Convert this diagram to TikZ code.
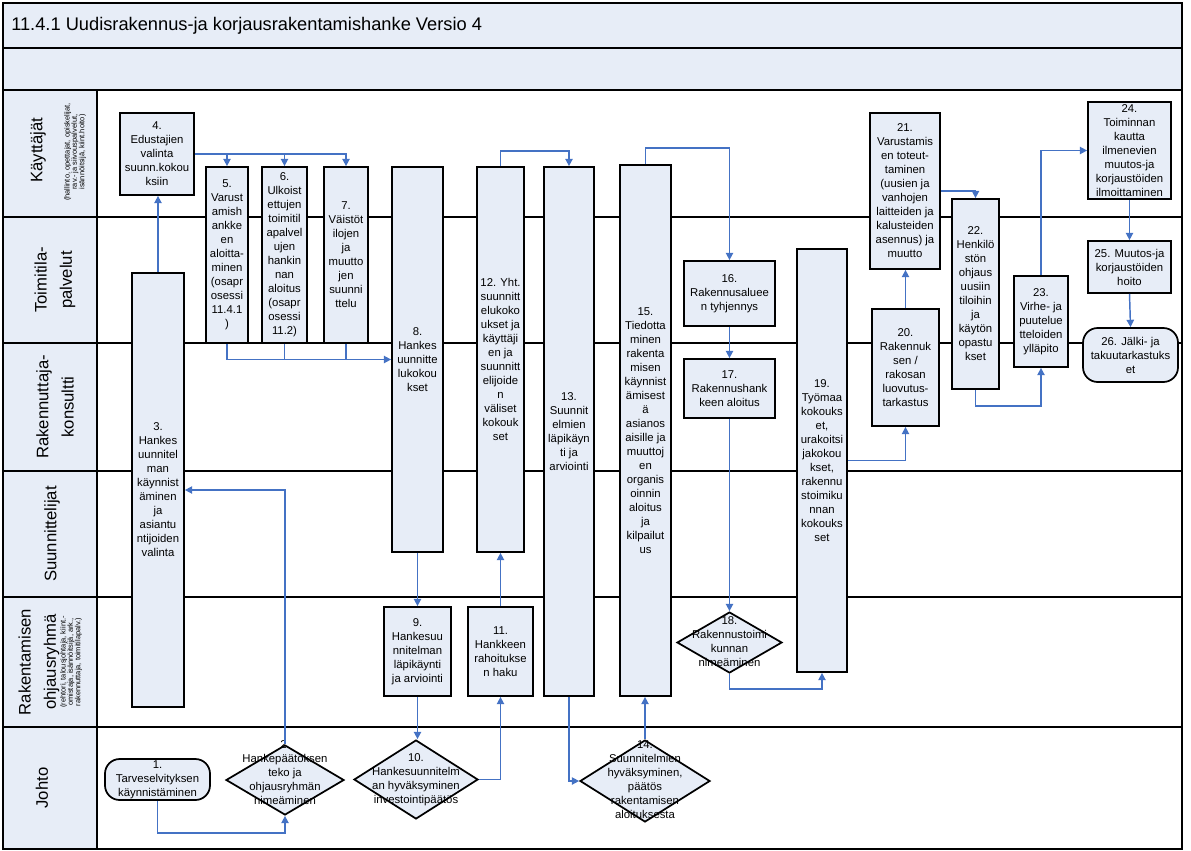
\documentclass[tikz,border=0pt]{standalone}
\usepackage{fontspec}
\setmainfont{Liberation Sans}
\usetikzlibrary{arrows.meta,shapes.geometric}
\definecolor{lanefill}{RGB}{231,237,247}
\definecolor{flowblue}{RGB}{68,114,196}
\newcommand\boxtextfont{\fontsize{8.5}{10.5}\selectfont}
\newcommand\lanetextfont{\fontsize{12.5}{19}\selectfont}
\newcommand\lanenotefont{\fontsize{5.6}{5.5}\selectfont}
\newcommand\titletextfont{\fontsize{13.7}{16}\selectfont}

\begin{document}
\begin{tikzpicture}[x=0.75pt,y=-0.75pt,
  sz/.style 2 args={minimum width=#1*0.75pt, minimum height=#2*0.75pt},
  box/.style={draw=black, line width=1.3pt, fill=lanefill, align=center,
    font=\boxtextfont, inner xsep=1pt, inner ysep=0pt},
  term/.style={box, rounded corners=11pt},
  dia/.style={diamond, draw=black, line width=1.3pt, fill=lanefill, inner sep=0pt},
  diatext/.style={align=center, font=\boxtextfont, inner sep=0pt},
  flow/.style={draw=flowblue, line width=1.1pt, -{Triangle[length=5.5pt,width=5.5pt]}},
  feed/.style={draw=flowblue, line width=1.1pt},
  lanelabel/.style={rotate=90, align=center, font=\lanetextfont, inner sep=0pt},
  lanenote/.style={rotate=90, align=center, font=\lanenotefont, inner sep=0pt},
  laneline/.style={draw=black, line width=1.5pt}
]
\useasboundingbox (0,0) rectangle (1191,850);

% pool frame, header bands and swimlanes
\fill[lanefill] (3,3) rectangle (1182,90);
\fill[lanefill] (3,90) rectangle (97,849);
\foreach \y in {48,90,217,343,471,597,727} \draw[laneline] (3,\y) -- (1182,\y);
\draw[laneline] (97,90) -- (97,849);
\draw[laneline] (3,3) rectangle (1182,849);

\node[font=\titletextfont, anchor=west, inner sep=0pt] (title) at (11,26)
  {11.4.1 Uudisrakennus-ja korjausrakentamishanke Versio 4};

% lane labels
\node[lanelabel] (lane1) at (38,150) {Käyttäjät};
\node[lanenote] (lane1note) at (75,152)
  {(hallinto, opettajat, opiskelijat,\\rav.- ja siivouspalvelut,\\isännöitsijä, kiint.hoito)};
\node[lanelabel] (lane2) at (55,280) {Toimitila-\\palvelut};
\node[lanelabel] (lane3) at (55,407) {Rakennuttaja-\\konsultti};
\node[lanelabel] (lane4) at (52,534) {Suunnittelijat};
\node[lanelabel] (lane5) at (39,662) {Rakentamisen\\ohjausryhmä};
\node[lanenote] (lane5note) at (71,662)
  {(rehtori, talousjohtaja, kiint.-\\omistaja, isännöitsijä, ark.,\\rakennuttaja, toimitilapalv.)};
\node[lanelabel] (lane6) at (42,788) {Johto};

% process steps
\node[term, sz={105}{41}] (n1) at (157.5,779.5) {1.\\Tarveselvityksen\\käynnistäminen};
\node[dia, sz={118}{70}] (n2) at (285,780) {};
\node[diatext] (n2text) at (285,773) {2.\\Hankepäätöksen\\teko ja\\ohjausryhmän\\nimeäminen};
\node[box, sz={52}{434}] (n3) at (158,490)
  {3.\\Hankes\\uunnitel\\man\\käynnist\\äminen\\ja\\asiantu\\ntijoiden\\valinta};
\node[box, sz={74}{82}] (n4) at (157,154) {4.\\Edustajien\\valinta\\suunn.kokou\\ksiin};
\node[box, sz={42}{176}] (n5) at (227,255)
  {5.\\Varust\\amish\\ankke\\en\\aloitta-\\minen\\(osapr\\osessi\\11.4.1\\)};
\node[box, sz={45}{176}] (n6) at (284.5,255)
  {6.\\Ulkoist\\ettujen\\toimitil\\apalvel\\ujen\\hankin\\nan\\aloitus\\(osapr\\osessi\\11.2)};
\node[box, sz={44}{176}] (n7) at (346,255)
  {7.\\Väistöt\\ilojen\\ja\\muutto\\jen\\suunni\\ttelu};
\node[box, sz={51}{385}] (n8) at (417.5,359.5) {8.\\Hankes\\uunnitte\\lukokou\\kset};
\node[box, sz={67}{89}] (n9) at (417.5,651.5) {9.\\Hankesuu\\nnitelman\\läpikäynti\\ja arviointi};
\node[dia, sz={124}{79}] (n10) at (416,779.5) {};
\node[diatext] (n10text) at (416,780) {10.\\Hankesuunnitelm\\an hyväksyminen\\investointipäätös};
\node[box, sz={65}{89}] (n11) at (500.5,651.5) {11.\\Hankkeen\\rahoitukse\\n haku};
\node[box, sz={47}{385}] (n12) at (500.5,359.5)
  {12. Yht.\\suunnitt\\elukoko\\ukset ja\\käyttäji\\en ja\\suunnitt\\elijoide\\n\\väliset\\kokouk\\set};
\node[box, sz={50}{529}] (n13) at (569,431.5) {13.\\Suunnit\\elmien\\läpikäyn\\ti ja\\arviointi};
\node[dia, sz={130}{82}] (n14) at (645,781) {};
\node[diatext] (n14text) at (645,780)
  {14.\\Suunnitelmien\\hyväksyminen,\\päätös\\rakentamisen\\aloituksesta};
\node[box, sz={51}{531}] (n15) at (645.5,430.5)
  {15.\\Tiedotta\\minen\\rakenta\\misen\\käynnist\\ämisest\\ä\\asianos\\aisille ja\\muuttoj\\en\\organis\\oinnin\\aloitus\\ja\\kilpailut\\us};
\node[box, sz={91}{65}] (n16) at (729.5,293.5) {16.\\Rakennusaluee\\n tyhjennys};
\node[box, sz={91}{59}] (n17) at (729.5,388.5) {17.\\Rakennushank\\keen aloitus};
\node[dia, sz={105}{61}] (n18) at (729.5,642.5) {};
\node[diatext] (n18text) at (729.5,642) {18.\\Rakennustoimi\\kunnan\\nimeäminen};
\node[box, sz={50}{423}] (n19) at (822,460.5)
  {19.\\Työmaa\\kokouks\\et,\\urakoitsi\\jakokou\\kset,\\rakennu\\stoimiku\\nnan\\kokouks\\set};
\node[box, sz={67}{117}] (n20) at (905.5,367.5) {20.\\Rakennuk\\sen /\\rakosan\\luovutus-\\tarkastus};
\node[box, sz={70}{156}] (n21) at (905,191)
  {21.\\Varustamis\\en toteut-\\taminen\\(uusien ja\\vanhojen\\laitteiden ja\\kalusteiden\\asennus) ja\\muutto};
\node[box, sz={47}{190}] (n22) at (975.5,294)
  {22.\\Henkilö\\stön\\ohjaus\\uusiin\\tiloihin\\ja\\käytön\\opastu\\kset};
\node[box, sz={54}{91}] (n23) at (1041,321.5) {23.\\Virhe- ja\\puutelue\\tteloiden\\ylläpito};
\node[box, sz={83}{97}] (n24) at (1129.5,150.5)
  {24.\\Toiminnan\\kautta\\ilmenevien\\muutos-ja\\korjaustöiden\\ilmoittaminen};
\node[box, sz={83}{52}] (n25) at (1129.5,267) {25. Muutos-ja\\korjaustöiden\\hoito};
\node[term, sz={95}{54}] (n26) at (1130.5,355) {26. Jälki- ja\\takuutarkastuks\\et};

% flow connectors
\draw[flow] (n1.south) -- ++(0,32) -| (n2.south);
\draw[flow] (n2.north) |- (n3.east);
\draw[flow] (n3.north) -- (n3.north |- n4.south);
\draw[flow] (n4.east) -| (n7.north);
\draw[flow] (n4.east -| n5.north) -- (n5.north);
\draw[flow] (n4.east -| n6.north) -- (n6.north);
\draw[flow] (n5.south) |- (n8.west);
\draw[feed] (n6.south) -- (n6.south |- n8.west);
\draw[feed] (n7.south) -- (n7.south |- n8.west);
\draw[flow] (n8.south) -- (n9.north);
\draw[flow] (n9.south) -- (n9.south |- n10.north);
\draw[flow] (n10.east) -| (n11.south);
\draw[flow] (n11.north) -- (n12.south);
\draw[flow] (n12.north) -- ++(0,-15) -| (n13.north);
\draw[flow] (n13.south) |- (n14.west);
\draw[flow] (n14.north) -- (n14.north |- n15.south);
\draw[flow] (n15.north) -- ++(0,-16) -| (n16.north);
\draw[flow] (n16.south) -- (n17.north);
\draw[flow] (n17.south) -- (n18.north);
\draw[flow] (n18.south) -- ++(0,15) -| (n19.south);
\draw[flow] (n19.east) -| (n20.south);
\draw[flow] (n20.north) -- (n20.north |- n21.south);
\draw[flow] (n21.east) -| (n22.north);
\draw[flow] (n22.south) -- ++(0,16) -| (n23.south);
\draw[flow] (n23.north) |- (n24.west);
\draw[flow] (n24.south) -- (n25.north);
\draw[flow] (n25.south) -- (n26.north);
\end{tikzpicture}
\end{document}
